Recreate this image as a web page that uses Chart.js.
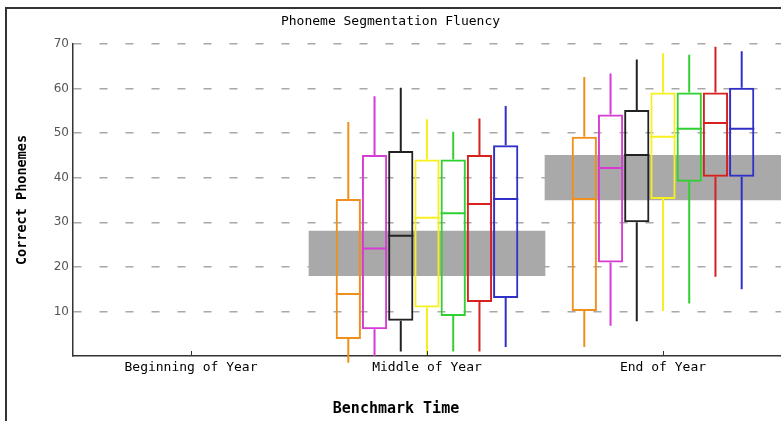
<!DOCTYPE html>
<html>
<head>
<meta charset="utf-8">
<script src="https://cdn.jsdelivr.net/npm/chart.js@4"></script>
<style>
  body { margin: 0; background: #fff; }
  #wrap { width: 781px; height: 421px; }
</style>
</head>
<body>
<div id="wrap"><canvas id="psfChart" width="781" height="421"></canvas></div>
<script>
const categories = ['Beginning of Year', 'Middle of Year', 'End of Year'];
const boxColors = ['#f0901c', '#d43cd4', '#222222', '#f6f01e', '#30d030', '#d82020', '#3030c8'];

// middle of year, one value per box (orange, magenta, black, yellow, green, red, blue)
const midMin = [-1.5, 0, 1, 0.2, 1, 1, 2];
const midQ1 = [3.8, 6, 7.9, 10.9, 9, 12.1, 13];
const midMedian = [13.9, 24.1, 27, 31, 32, 34.1, 35.2];
const midQ3 = [35.2, 45.1, 46, 44.1, 44.1, 45.1, 47.3];
const midMax = [52.5, 58.3, 60.2, 53.1, 50.3, 53.3, 56.1];

// end of year
const endMin = [2, 6.8, 7.8, 10.1, 11.8, 17.8, 15];
const endQ1 = [10.1, 21, 30, 35.2, 39.1, 40.2, 40.2];
const endMedian = [35.2, 42.2, 45.1, 49.2, 51, 52.3, 51];
const endQ3 = [49.2, 54.2, 55.2, 59.1, 59.1, 59.1, 60.2];
const endMax = [62.6, 63.4, 66.5, 67.9, 67.6, 69.4, 68.4];

// benchmark range bands
const bandLow = [null, 18, 35];
const bandHigh = [null, 28, 45];

const yTicks = [10, 20, 30, 40, 50, 60, 70];

const mins = [null, midMin, endMin];
const medians = [null, midMedian, endMedian];
const maxs = [null, midMax, endMax];

const boxDatasets = boxColors.map((color, i) => ({
    type: 'bar',
    data: [null, [midQ1[i], midQ3[i]], [endQ1[i], endQ3[i]]],
    backgroundColor: 'rgba(0,0,0,0)',
    borderColor: color,
    borderWidth: 2,
    borderSkipped: false,
    categoryPercentage: 0.778,
    barPercentage: 0.962,
    order: 0
}));

const bandDataset = {
    type: 'bar',
    data: bandLow.map((low, j) => low === null ? null : [low, bandHigh[j]]),
    backgroundColor: '#a9a9a9',
    borderWidth: 0,
    grouped: false,
    categoryPercentage: 1,
    barPercentage: 1,
    order: 5
};

// whiskers, medians, tick marks, frame and x title
const boxExtras = {
    id: 'boxExtras',
    afterDatasetsDraw(chart) {
        const ctx = chart.ctx;
        const y = chart.scales.y;
        const x = chart.scales.x;
        const area = chart.chartArea;
        ctx.save();
        boxColors.forEach((color, i) => {
            const meta = chart.getDatasetMeta(i);
            for (let j = 1; j < categories.length; j++) {
                const bar = meta.data[j];
                if (!bar || !mins[j]) continue;
                const half = bar.width / 2;
                ctx.strokeStyle = color;
                ctx.lineWidth = 2;
                ctx.beginPath();
                ctx.moveTo(bar.x, y.getPixelForValue(chart.data.datasets[i].data[j][1]));
                ctx.lineTo(bar.x, y.getPixelForValue(maxs[j][i]));
                ctx.moveTo(bar.x, y.getPixelForValue(chart.data.datasets[i].data[j][0]));
                ctx.lineTo(bar.x, y.getPixelForValue(mins[j][i]));
                const my = y.getPixelForValue(medians[j][i]);
                ctx.moveTo(bar.x - half, my);
                ctx.lineTo(bar.x + half, my);
                ctx.stroke();
            }
        });
        // tick marks pointing up from the x axis
        ctx.strokeStyle = '#333';
        ctx.lineWidth = 1;
        ctx.beginPath();
        categories.forEach((c, j) => {
            const px = Math.round(x.getPixelForValue(j)) + 0.5;
            ctx.moveTo(px, area.bottom);
            ctx.lineTo(px, area.bottom - 5);
        });
        ctx.stroke();
        ctx.restore();
    },
    afterDraw(chart) {
        const ctx = chart.ctx;
        ctx.save();
        ctx.strokeStyle = '#333';
        ctx.lineWidth = 2;
        ctx.beginPath();
        ctx.moveTo(6, chart.height + 2);
        ctx.lineTo(6, 8);
        ctx.lineTo(chart.width + 2, 8);
        ctx.stroke();
        ctx.fillStyle = '#000';
        ctx.font = 'bold 15px "DejaVu Sans Mono"';
        ctx.textAlign = 'center';
        ctx.textBaseline = 'middle';
        ctx.fillText('Benchmark Time', 396, 409);
        ctx.restore();
    }
};

const ctx = document.getElementById('psfChart').getContext('2d');
const psfChart = new Chart(ctx, {
    type: 'bar',
    data: {
        labels: categories,
        datasets: [...boxDatasets, bandDataset]
    },
    options: {
        responsive: false,
        animation: false,
        layout: { padding: 0 },
        plugins: {
            legend: { display: false },
            tooltip: { enabled: false },
            title: {
                display: true,
                text: 'Phoneme Segmentation Fluency',
                color: '#000',
                font: { family: 'DejaVu Sans Mono', size: 13, weight: 'normal', lineHeight: 1.2 },
                padding: { top: 14, bottom: 14.4 }
            }
        },
        scales: {
            x: {
                offset: true,
                grid: { display: false, drawTicks: false },
                border: { display: true, color: '#333', width: 1.5 },
                ticks: {
                    color: '#000',
                    padding: 4,
                    font: { family: 'DejaVu Sans Mono', size: 13 }
                },
                afterFit(scale) { scale.height = 65; }
            },
            y: {
                min: 0,
                max: 70,
                afterBuildTicks(scale) { scale.ticks = yTicks.map(v => ({ value: v })); },
                grid: { color: '#a8a8a8', lineWidth: 1.5, drawTicks: false },
                border: { display: true, color: '#333', width: 1.5, dash: [8, 18] },
                ticks: {
                    color: '#555',
                    padding: 4,
                    font: { family: 'DejaVu Sans', size: 12 }
                },
                title: {
                    display: true,
                    text: 'Correct Phonemes',
                    color: '#000',
                    font: { family: 'DejaVu Sans Mono', size: 13.5, weight: 'bold', lineHeight: 1.2 },
                    padding: { top: 14, bottom: 0 }
                },
                afterFit(scale) { scale.width = 73; }
            }
        }
    },
    plugins: [boxExtras]
});
</script>
</body>
</html>
